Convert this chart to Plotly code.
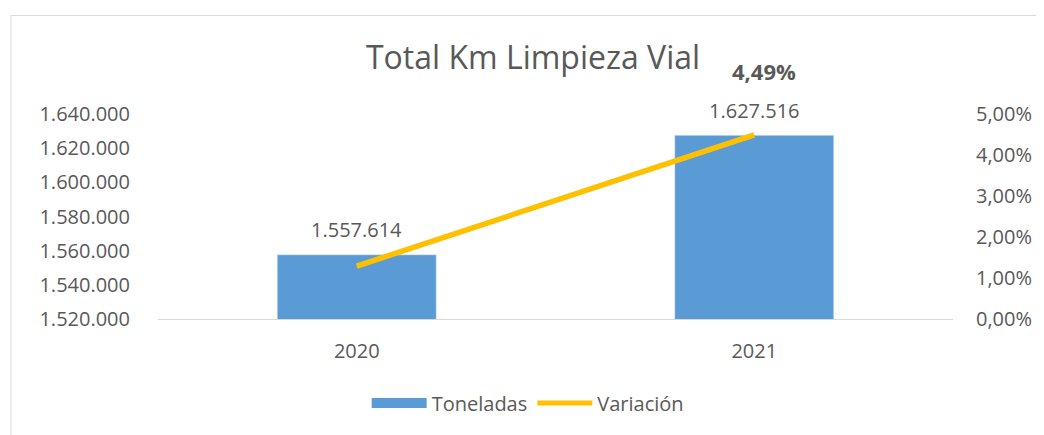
import plotly.graph_objects as go

_TEXT = "#595959"
_FONT = "'Open Sans', Calibri, sans-serif"
_BLUE = "#5b9bd5"
_GOLD = "#ffc000"

years = ["2020", "2021"]
toneladas = [1557614, 1627516]
variacion = [0.0129, 0.0449]

fig = go.Figure()

fig.add_trace(
    go.Bar(
        x=years,
        y=toneladas,
        name="Toneladas",
        marker_color=_BLUE,
        width=0.4,
        showlegend=False,
    )
)

fig.add_trace(
    go.Scatter(
        x=years,
        y=variacion,
        name="Variación",
        mode="lines",
        line=dict(color=_GOLD, width=5.5),
        yaxis="y2",
        showlegend=False,
    )
)

# entradas de leyenda (muestra rectangular como en Excel)
fig.add_trace(
    go.Scatter(x=[None], y=[None], mode="lines", name="Toneladas",
               line=dict(color=_BLUE, width=13))
)
fig.add_trace(
    go.Scatter(x=[None], y=[None], mode="lines", name="Variación",
               line=dict(color=_GOLD, width=5), yaxis="y2")
)

# etiquetas de las barras (x por índice de categoría)
for i, val in enumerate(toneladas):
    fig.add_annotation(
        x=i,
        y=val,
        text=f"{val:,d}".replace(",", "."),
        showarrow=False,
        yshift=25,
        font=dict(size=20, color=_TEXT),
    )

# etiqueta de la variación sólo en el último año
fig.add_annotation(
    x=len(years) - 1,
    y=variacion[-1],
    yref="y2",
    text="<b>" + f"{variacion[-1] * 100:.2f}".replace(".", ",") + "%</b>",
    showarrow=False,
    yshift=64,
    xshift=10,
    font=dict(size=22, color=_TEXT),
)

# borde del gráfico
fig.add_shape(
    type="rect",
    xref="paper",
    yref="paper",
    x0=-0.185,
    x1=1.2,
    y0=-0.7,
    y1=1.4806,
    line=dict(color="#d9d9d9", width=1),
    layer="below",
)

fig.update_layout(
    width=1036,
    height=427,
    separators=",.",
    paper_bgcolor="#ffffff",
    plot_bgcolor="#ffffff",
    font=dict(family=_FONT, size=20, color=_TEXT),
    margin=dict(l=150, r=86, t=106, b=115),
    title=dict(
        text="Total Km Limpieza Vial",
        x=525 / 1036,
        xanchor="center",
        y=1 - 50 / 427,
        yanchor="middle",
        font=dict(size=32, color=_TEXT),
    ),
    showlegend=True,
    legend=dict(
        orientation="h",
        x=0.465,
        xanchor="center",
        y=-0.41,
        yanchor="middle",
        font=dict(size=20, color=_TEXT),
        itemwidth=55,
        traceorder="normal",
    ),
    xaxis=dict(
        type="category",
        range=[-0.5, 1.5],
        autorange=False,
        showgrid=False,
        showline=True,
        linecolor="#d9d9d9",
        linewidth=1,
        ticks="outside",
        ticklen=14,
        tickcolor="rgba(0,0,0,0)",
        tickfont=dict(size=20, color=_TEXT),
    ),
    yaxis=dict(
        range=[1520000, 1640000],
        dtick=20000,
        tickformat=",d",
        showgrid=False,
        zeroline=False,
        showline=False,
        ticks="outside",
        ticklen=23,
        tickcolor="rgba(0,0,0,0)",
        tickfont=dict(size=20, color=_TEXT),
    ),
    yaxis2=dict(
        range=[0, 0.05],
        dtick=0.01,
        tickformat=".2%",
        overlaying="y",
        side="right",
        showgrid=False,
        zeroline=False,
        showline=False,
        ticks="outside",
        ticklen=18,
        tickcolor="rgba(0,0,0,0)",
        tickfont=dict(size=20, color=_TEXT),
    ),
)

fig.write_html("out.html")
